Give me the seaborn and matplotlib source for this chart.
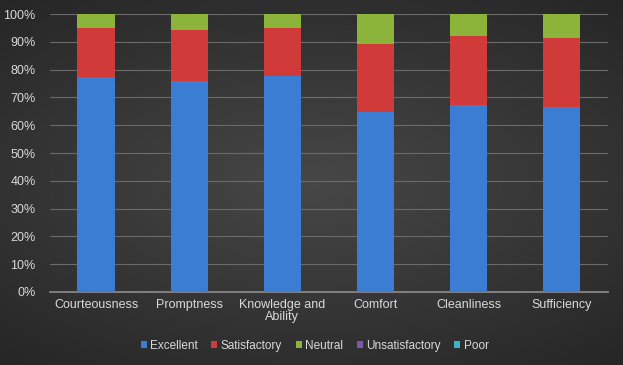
import numpy as np
import pandas as pd
import matplotlib.pyplot as plt
import seaborn as sns
from matplotlib.patches import Patch
from matplotlib.ticker import PercentFormatter

categories = ["Courteousness", "Promptness", "Knowledge and\nAbility", "Comfort",
              "Cleanliness", "Sufficiency"]
excellent = [0.773, 0.759, 0.777, 0.647, 0.673, 0.665]
satisfactory = [0.177, 0.183, 0.173, 0.245, 0.248, 0.249]
neutral = [0.050, 0.058, 0.050, 0.108, 0.079, 0.086]
unsatisfactory = [0.0, 0.0, 0.0, 0.0, 0.0, 0.0]
poor = [0.0, 0.0, 0.0, 0.0, 0.0, 0.0]

series = ["Excellent", "Satisfactory", "Neutral", "Unsatisfactory", "Poor"]
colors = ["#3a7dd3", "#d03a38", "#8cb33a", "#7b58aa", "#3bb1ca"]

df = pd.DataFrame({"category": categories, "Excellent": excellent,
                   "Satisfactory": satisfactory, "Neutral": neutral,
                   "Unsatisfactory": unsatisfactory, "Poor": poor})

sns.set_theme(style="dark")
plt.rcParams["font.family"] = ["Liberation Sans", "DejaVu Sans"]
text_col = "#d9d9d9"

fig = plt.figure(figsize=(6.23, 3.65), dpi=100)

# radial-ish dark background
bg = fig.add_axes([0, 0, 1, 1], zorder=-10)
yy, xx = np.mgrid[-1:1:200j, -1:1:340j]
r = np.sqrt((xx * 0.85) ** 2 + (yy * 1.0) ** 2)
bg.imshow(-r, cmap=sns.blend_palette(["#262626", "#474747"], as_cmap=True),
          aspect="auto", extent=[0, 1, 0, 1])
bg.axis("off")

ax = fig.add_axes([0.0795, 0.2, 0.897, 0.7616])
ax.set_facecolor("none")

# stacked bars: draw cumulative totals, topmost first
cum = df[series].cumsum(axis=1)
for name, col in reversed(list(zip(series, colors))):
    sns.barplot(x=df["category"], y=cum[name], color=col, width=0.4,
                saturation=1, linewidth=0, edgecolor="none", ax=ax, zorder=3)

ax.set_ylim(0, 1)
ax.set_yticks(np.arange(0, 1.01, 0.1))
ax.yaxis.set_major_formatter(PercentFormatter(1.0, decimals=0))
ax.grid(axis="y", color="#6b6b6b", linewidth=0.8, zorder=0)
ax.grid(axis="x", visible=False)
ax.set_xlabel("")
ax.set_ylabel("")
for s in ["top", "right", "left"]:
    ax.spines[s].set_visible(False)
ax.spines["bottom"].set_color("#8a8a8a")
ax.tick_params(axis="both", colors=text_col, labelsize=9, length=0)
ax.tick_params(axis="x", pad=5)
ax.tick_params(axis="y", pad=10)
for lbl in ax.get_xticklabels():
    lbl.set_linespacing(1.0)

handles = [Patch(facecolor=c, edgecolor="none") for c in colors]
leg = fig.legend(handles, series, loc="center", bbox_to_anchor=(0.505, 0.052),
                 ncol=5, frameon=False, fontsize=8.5, handlelength=0.5,
                 handleheight=0.5, handletextpad=0.3, columnspacing=1.15)
for t in leg.get_texts():
    t.set_color(text_col)

fig.savefig("out.png", dpi=100)
